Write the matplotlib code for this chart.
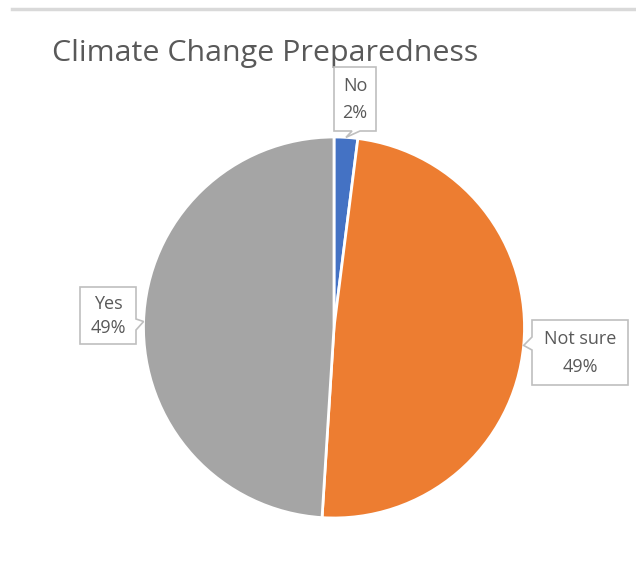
import matplotlib
matplotlib.use("Agg")
import matplotlib.pyplot as plt
from matplotlib.patches import Polygon
from matplotlib.lines import Line2D
import numpy as np

categories = ["No", "Not sure", "Yes"]
values = [2, 49, 49]
percent_labels = ["2%", "49%", "49%"]
colors = ["#4472C4", "#ED7D31", "#A5A5A5"]

W, H = 636, 571
fig = plt.figure(figsize=(W / 100, H / 100), dpi=100)
fig.patch.set_facecolor("white")


def fx(px):
    return px / W


def fy(py):
    return 1 - py / H


# thin rule along the top
fig.add_artist(Line2D([fx(12), fx(636)], [fy(9), fy(9)], color="#d9d9d9", lw=2.5,
                      transform=fig.transFigure))

fig.text(fx(52), fy(53), "Climate Change Preparedness", fontsize=21.9,
         family="Open Sans", color="#595959", ha="left", va="center")

cx, cy, r = 334, 327.5, 190.5
ax = fig.add_axes([fx(cx - r), fy(cy + r), 2 * r / W, 2 * r / H])
ax.axis("off")

wedges, _ = ax.pie(values, colors=colors, startangle=90, counterclock=False,
                   radius=1, wedgeprops=dict(edgecolor="white", linewidth=2))
ax.set_xlim(-1, 1)
ax.set_ylim(-1, 1)
ax.set_aspect("equal")

# callout boxes: (left, top, right, bottom) in pixels, side of the pointer
boxes = [
    (334, 67, 376, 131, "bottom"),
    (532, 320, 628, 385, "left"),
    (80, 287, 136, 344, "right"),
]

to_fig = ax.transData + fig.transFigure.inverted()
for w, cat, pct, (l, t, rr, b, side) in zip(wedges, categories, percent_labels, boxes):
    mid = np.deg2rad((w.theta1 + w.theta2) / 2)
    tip = to_fig.transform((1.0 * np.cos(mid), 1.0 * np.sin(mid)))
    L, T, R, B = fx(l), fy(t), fx(rr), fy(b)
    if side == "bottom":
        xm = (L + R) / 2
        pts = [(L, T), (R, T), (R, B), (xm + fx(5), B), tuple(tip), (xm - fx(3), B), (L, B)]
    elif side == "left":
        ym = fy(343)
        pts = [(L, T), (R, T), (R, B), (L, B), (L, ym - (fy(0) - fy(7))), tuple(tip),
               (L, ym + (fy(0) - fy(6)))]
    else:
        ym = fy(324)
        pts = [(L, T), (R, T), (R, ym + (fy(0) - fy(5))), tuple(tip),
               (R, ym - (fy(0) - fy(6))), (R, B), (L, B)]
    fig.add_artist(Polygon(pts, closed=True, facecolor="white", edgecolor="#BFBFBF",
                           lw=1.2, transform=fig.transFigure, zorder=5))
    xc = (L + R) / 2
    fig.text(xc, fy(t + (b - t) * 0.3), cat, ha="center", va="center", fontsize=13,
             family="Open Sans", color="#595959", zorder=6)
    fig.text(xc, fy(t + (b - t) * 0.72), pct, ha="center", va="center", fontsize=13,
             family="Open Sans", color="#595959", zorder=6)

fig.savefig("out.png", dpi=100, facecolor="white")
